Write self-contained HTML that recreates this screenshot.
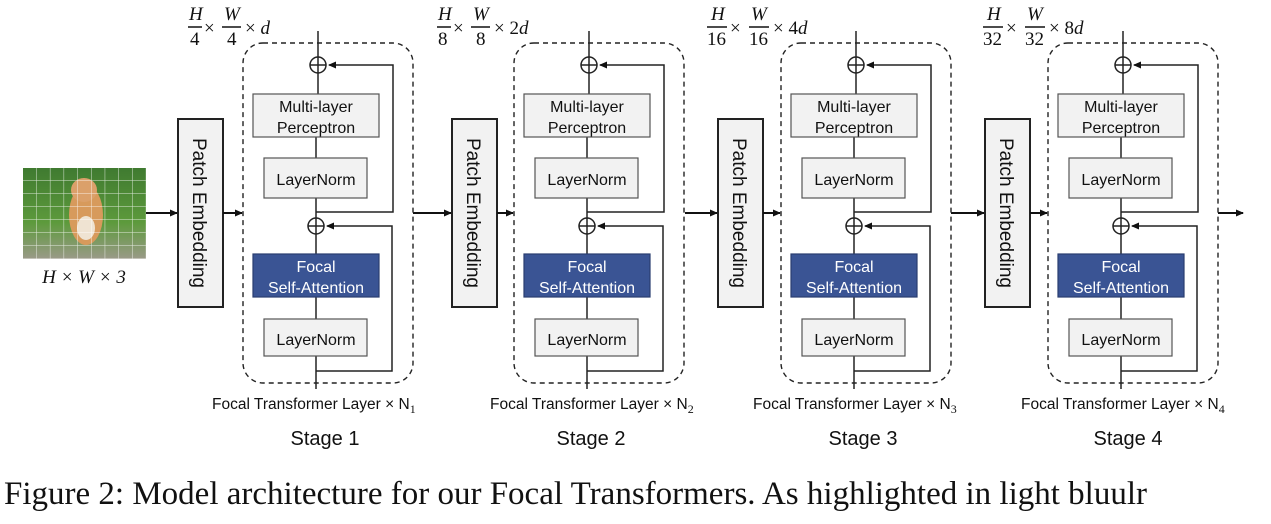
<!DOCTYPE html>
<html><head><meta charset="utf-8"><style>
html,body{margin:0;padding:0;background:#fff;}
svg{display:block;}
.s{font-family:"Liberation Sans",sans-serif;}
.m{font-family:"Liberation Serif",serif;}
</style></head><body>
<svg width="1271" height="524" viewBox="0 0 1271 524" xmlns="http://www.w3.org/2000/svg">
<defs>
<marker id="a" markerWidth="8" markerHeight="8" refX="7" refY="4" orient="auto" markerUnits="userSpaceOnUse">
<path d="M0,0.5 L8,4 L0,7.5 z" fill="#111"/></marker>
<pattern id="g" x="23" y="168" width="13.7" height="13" patternUnits="userSpaceOnUse">
<path d="M13.7,0 V13 M0,13 H13.7" stroke="#fff" stroke-width="1" fill="none" opacity="0.8"/></pattern>
<linearGradient id="bg" x1="0" y1="0" x2="0" y2="1">
<stop offset="0" stop-color="#3f7a30"/><stop offset="0.6" stop-color="#5d9a3c"/><stop offset="1" stop-color="#9a9a88"/></linearGradient>
</defs>

<rect x="23" y="168" width="123" height="91" fill="url(#bg)"/>
<ellipse cx="86" cy="215" rx="17" ry="30" fill="#d79a5c"/>
<ellipse cx="84" cy="190" rx="13" ry="12" fill="#dba06a"/>
<ellipse cx="86" cy="228" rx="9" ry="12" fill="#efe3d2"/>
<rect x="23" y="168" width="123" height="91" fill="url(#g)"/>
<text x="84" y="283" class="m" font-size="19" font-style="italic" text-anchor="middle" fill="#111">H × W × 3</text>

<g stroke="#111" stroke-width="2" fill="none">
<line x1="146" y1="213" x2="177" y2="213" marker-end="url(#a)"/>
<line x1="413" y1="213" x2="451" y2="213" marker-end="url(#a)"/>
<line x1="685" y1="213" x2="717" y2="213" marker-end="url(#a)"/>
<line x1="951" y1="213" x2="984" y2="213" marker-end="url(#a)"/>
<line x1="1218" y1="213" x2="1243" y2="213" marker-end="url(#a)"/>
</g>

<g>
<rect x="178" y="119" width="45" height="188" fill="#f2f2f2" stroke="#222" stroke-width="2"/>
<text transform="translate(193,213) rotate(90)" class="s" font-size="19" text-anchor="middle" fill="#111">Patch Embedding</text>
<line x1="223" y1="213" x2="242" y2="213" stroke="#111" stroke-width="2" marker-end="url(#a)"/>
<rect x="243" y="43" width="170" height="340" rx="20" fill="none" stroke="#222" stroke-width="1.4" stroke-dasharray="5,4"/>
<g stroke="#222" stroke-width="1.5" fill="none">
<line x1="318" y1="31" x2="318" y2="94"/><line x1="316" y1="137" x2="316" y2="158"/><line x1="316" y1="198" x2="316" y2="254"/><line x1="316" y1="297" x2="316" y2="319"/><line x1="316" y1="356" x2="316" y2="389"/>
<circle cx="318" cy="65" r="8" fill="#fff"/><line x1="310" y1="65" x2="326" y2="65"/><line x1="318" y1="57" x2="318" y2="73"/>
<polyline points="316,212 393,212 393,65 329,65" marker-end="url(#a)"/>
<circle cx="316" cy="226" r="8" fill="#fff"/><line x1="308" y1="226" x2="324" y2="226"/><line x1="316" y1="218" x2="316" y2="234"/>
<polyline points="316,371 392,371 392,226 327,226" marker-end="url(#a)"/>
</g>
<rect x="253" y="94" width="126" height="43" fill="#f2f2f2" stroke="#555" stroke-width="1.2"/>
<text x="316" y="112" class="s" font-size="16" text-anchor="middle" fill="#111">Multi-layer</text>
<text x="316" y="133" class="s" font-size="16" text-anchor="middle" fill="#111">Perceptron</text>
<rect x="264" y="158" width="103" height="40" fill="#f2f2f2" stroke="#555" stroke-width="1.2"/>
<text x="316" y="185" class="s" font-size="16" text-anchor="middle" fill="#111">LayerNorm</text>
<rect x="253" y="254" width="126" height="43" fill="#3a5494" stroke="#2a3e70" stroke-width="1.2"/>
<text x="316" y="272" class="s" font-size="16" text-anchor="middle" fill="#fff">Focal</text>
<text x="316" y="293" class="s" font-size="16" text-anchor="middle" fill="#fff">Self-Attention</text>
<rect x="264" y="319" width="103" height="37" fill="#f2f2f2" stroke="#555" stroke-width="1.2"/>
<text x="316" y="345" class="s" font-size="16" text-anchor="middle" fill="#111">LayerNorm</text>
<text x="325" y="445" class="s" font-size="20" text-anchor="middle" fill="#111">Stage 1</text>
</g>
<g transform="translate(271,0)">
<rect x="181" y="119" width="45" height="188" fill="#f2f2f2" stroke="#222" stroke-width="2"/>
<text transform="translate(196,213) rotate(90)" class="s" font-size="19" text-anchor="middle" fill="#111">Patch Embedding</text>
<line x1="226" y1="213" x2="242" y2="213" stroke="#111" stroke-width="2" marker-end="url(#a)"/>
<rect x="243" y="43" width="170" height="340" rx="20" fill="none" stroke="#222" stroke-width="1.4" stroke-dasharray="5,4"/>
<g stroke="#222" stroke-width="1.5" fill="none">
<line x1="318" y1="31" x2="318" y2="94"/><line x1="316" y1="137" x2="316" y2="158"/><line x1="316" y1="198" x2="316" y2="254"/><line x1="316" y1="297" x2="316" y2="319"/><line x1="316" y1="356" x2="316" y2="389"/>
<circle cx="318" cy="65" r="8" fill="#fff"/><line x1="310" y1="65" x2="326" y2="65"/><line x1="318" y1="57" x2="318" y2="73"/>
<polyline points="316,212 393,212 393,65 329,65" marker-end="url(#a)"/>
<circle cx="316" cy="226" r="8" fill="#fff"/><line x1="308" y1="226" x2="324" y2="226"/><line x1="316" y1="218" x2="316" y2="234"/>
<polyline points="316,371 392,371 392,226 327,226" marker-end="url(#a)"/>
</g>
<rect x="253" y="94" width="126" height="43" fill="#f2f2f2" stroke="#555" stroke-width="1.2"/>
<text x="316" y="112" class="s" font-size="16" text-anchor="middle" fill="#111">Multi-layer</text>
<text x="316" y="133" class="s" font-size="16" text-anchor="middle" fill="#111">Perceptron</text>
<rect x="264" y="158" width="103" height="40" fill="#f2f2f2" stroke="#555" stroke-width="1.2"/>
<text x="316" y="185" class="s" font-size="16" text-anchor="middle" fill="#111">LayerNorm</text>
<rect x="253" y="254" width="126" height="43" fill="#3a5494" stroke="#2a3e70" stroke-width="1.2"/>
<text x="316" y="272" class="s" font-size="16" text-anchor="middle" fill="#fff">Focal</text>
<text x="316" y="293" class="s" font-size="16" text-anchor="middle" fill="#fff">Self-Attention</text>
<rect x="264" y="319" width="103" height="37" fill="#f2f2f2" stroke="#555" stroke-width="1.2"/>
<text x="316" y="345" class="s" font-size="16" text-anchor="middle" fill="#111">LayerNorm</text>
<text x="320" y="445" class="s" font-size="20" text-anchor="middle" fill="#111">Stage 2</text>
</g>
<g transform="translate(538,0)">
<rect x="180" y="119" width="45" height="188" fill="#f2f2f2" stroke="#222" stroke-width="2"/>
<text transform="translate(195,213) rotate(90)" class="s" font-size="19" text-anchor="middle" fill="#111">Patch Embedding</text>
<line x1="225" y1="213" x2="242" y2="213" stroke="#111" stroke-width="2" marker-end="url(#a)"/>
<rect x="243" y="43" width="170" height="340" rx="20" fill="none" stroke="#222" stroke-width="1.4" stroke-dasharray="5,4"/>
<g stroke="#222" stroke-width="1.5" fill="none">
<line x1="318" y1="31" x2="318" y2="94"/><line x1="316" y1="137" x2="316" y2="158"/><line x1="316" y1="198" x2="316" y2="254"/><line x1="316" y1="297" x2="316" y2="319"/><line x1="316" y1="356" x2="316" y2="389"/>
<circle cx="318" cy="65" r="8" fill="#fff"/><line x1="310" y1="65" x2="326" y2="65"/><line x1="318" y1="57" x2="318" y2="73"/>
<polyline points="316,212 393,212 393,65 329,65" marker-end="url(#a)"/>
<circle cx="316" cy="226" r="8" fill="#fff"/><line x1="308" y1="226" x2="324" y2="226"/><line x1="316" y1="218" x2="316" y2="234"/>
<polyline points="316,371 392,371 392,226 327,226" marker-end="url(#a)"/>
</g>
<rect x="253" y="94" width="126" height="43" fill="#f2f2f2" stroke="#555" stroke-width="1.2"/>
<text x="316" y="112" class="s" font-size="16" text-anchor="middle" fill="#111">Multi-layer</text>
<text x="316" y="133" class="s" font-size="16" text-anchor="middle" fill="#111">Perceptron</text>
<rect x="264" y="158" width="103" height="40" fill="#f2f2f2" stroke="#555" stroke-width="1.2"/>
<text x="316" y="185" class="s" font-size="16" text-anchor="middle" fill="#111">LayerNorm</text>
<rect x="253" y="254" width="126" height="43" fill="#3a5494" stroke="#2a3e70" stroke-width="1.2"/>
<text x="316" y="272" class="s" font-size="16" text-anchor="middle" fill="#fff">Focal</text>
<text x="316" y="293" class="s" font-size="16" text-anchor="middle" fill="#fff">Self-Attention</text>
<rect x="264" y="319" width="103" height="37" fill="#f2f2f2" stroke="#555" stroke-width="1.2"/>
<text x="316" y="345" class="s" font-size="16" text-anchor="middle" fill="#111">LayerNorm</text>
<text x="325" y="445" class="s" font-size="20" text-anchor="middle" fill="#111">Stage 3</text>
</g>
<g transform="translate(805,0)">
<rect x="180" y="119" width="45" height="188" fill="#f2f2f2" stroke="#222" stroke-width="2"/>
<text transform="translate(195,213) rotate(90)" class="s" font-size="19" text-anchor="middle" fill="#111">Patch Embedding</text>
<line x1="225" y1="213" x2="242" y2="213" stroke="#111" stroke-width="2" marker-end="url(#a)"/>
<rect x="243" y="43" width="170" height="340" rx="20" fill="none" stroke="#222" stroke-width="1.4" stroke-dasharray="5,4"/>
<g stroke="#222" stroke-width="1.5" fill="none">
<line x1="318" y1="31" x2="318" y2="94"/><line x1="316" y1="137" x2="316" y2="158"/><line x1="316" y1="198" x2="316" y2="254"/><line x1="316" y1="297" x2="316" y2="319"/><line x1="316" y1="356" x2="316" y2="389"/>
<circle cx="318" cy="65" r="8" fill="#fff"/><line x1="310" y1="65" x2="326" y2="65"/><line x1="318" y1="57" x2="318" y2="73"/>
<polyline points="316,212 393,212 393,65 329,65" marker-end="url(#a)"/>
<circle cx="316" cy="226" r="8" fill="#fff"/><line x1="308" y1="226" x2="324" y2="226"/><line x1="316" y1="218" x2="316" y2="234"/>
<polyline points="316,371 392,371 392,226 327,226" marker-end="url(#a)"/>
</g>
<rect x="253" y="94" width="126" height="43" fill="#f2f2f2" stroke="#555" stroke-width="1.2"/>
<text x="316" y="112" class="s" font-size="16" text-anchor="middle" fill="#111">Multi-layer</text>
<text x="316" y="133" class="s" font-size="16" text-anchor="middle" fill="#111">Perceptron</text>
<rect x="264" y="158" width="103" height="40" fill="#f2f2f2" stroke="#555" stroke-width="1.2"/>
<text x="316" y="185" class="s" font-size="16" text-anchor="middle" fill="#111">LayerNorm</text>
<rect x="253" y="254" width="126" height="43" fill="#3a5494" stroke="#2a3e70" stroke-width="1.2"/>
<text x="316" y="272" class="s" font-size="16" text-anchor="middle" fill="#fff">Focal</text>
<text x="316" y="293" class="s" font-size="16" text-anchor="middle" fill="#fff">Self-Attention</text>
<rect x="264" y="319" width="103" height="37" fill="#f2f2f2" stroke="#555" stroke-width="1.2"/>
<text x="316" y="345" class="s" font-size="16" text-anchor="middle" fill="#111">LayerNorm</text>
<text x="323" y="445" class="s" font-size="20" text-anchor="middle" fill="#111">Stage 4</text>
</g>

<g class="s" font-size="15.5" fill="#111">
<text x="212" y="409">Focal Transformer Layer × N<tspan class="m" font-size="12" dy="4">1</tspan></text>
<text x="490" y="409">Focal Transformer Layer × N<tspan class="m" font-size="12" dy="4">2</tspan></text>
<text x="753" y="409">Focal Transformer Layer × N<tspan class="m" font-size="12" dy="4">3</tspan></text>
<text x="1021" y="409">Focal Transformer Layer × N<tspan class="m" font-size="12" dy="4">4</tspan></text>
</g>

<g class="m" font-size="19" fill="#111" stroke-width="1.5">
<text x="189" y="20" font-style="italic">H</text><line x1="188" y1="27" x2="202" y2="27" stroke="#111"/><text x="190" y="45">4</text>
<text x="204" y="34">×</text>
<text x="224" y="20" font-style="italic">W</text><line x1="222" y1="27" x2="241" y2="27" stroke="#111"/><text x="227" y="45">4</text>
<text x="245" y="34">× <tspan font-style="italic">d</tspan></text>

<text x="438" y="20" font-style="italic">H</text><line x1="437" y1="27" x2="451" y2="27" stroke="#111"/><text x="438" y="45">8</text>
<text x="453" y="34">×</text>
<text x="473" y="20" font-style="italic">W</text><line x1="471" y1="27" x2="490" y2="27" stroke="#111"/><text x="476" y="45">8</text>
<text x="494" y="34">× 2<tspan font-style="italic">d</tspan></text>

<text x="711" y="20" font-style="italic">H</text><line x1="707" y1="27" x2="727" y2="27" stroke="#111"/><text x="707" y="45">16</text>
<text x="730" y="34">×</text>
<text x="751" y="20" font-style="italic">W</text><line x1="749" y1="27" x2="769" y2="27" stroke="#111"/><text x="749" y="45">16</text>
<text x="773" y="34">× 4<tspan font-style="italic">d</tspan></text>

<text x="987" y="20" font-style="italic">H</text><line x1="983" y1="27" x2="1003" y2="27" stroke="#111"/><text x="983" y="45">32</text>
<text x="1006" y="34">×</text>
<text x="1027" y="20" font-style="italic">W</text><line x1="1025" y1="27" x2="1045" y2="27" stroke="#111"/><text x="1025" y="45">32</text>
<text x="1049" y="34">× 8<tspan font-style="italic">d</tspan></text>
</g>

<text x="4" y="504" class="m" font-size="33" fill="#111" textLength="1143" lengthAdjust="spacingAndGlyphs">Figure 2: Model architecture for our Focal Transformers. As highlighted in light bluulr</text>
</svg>
</body></html>
